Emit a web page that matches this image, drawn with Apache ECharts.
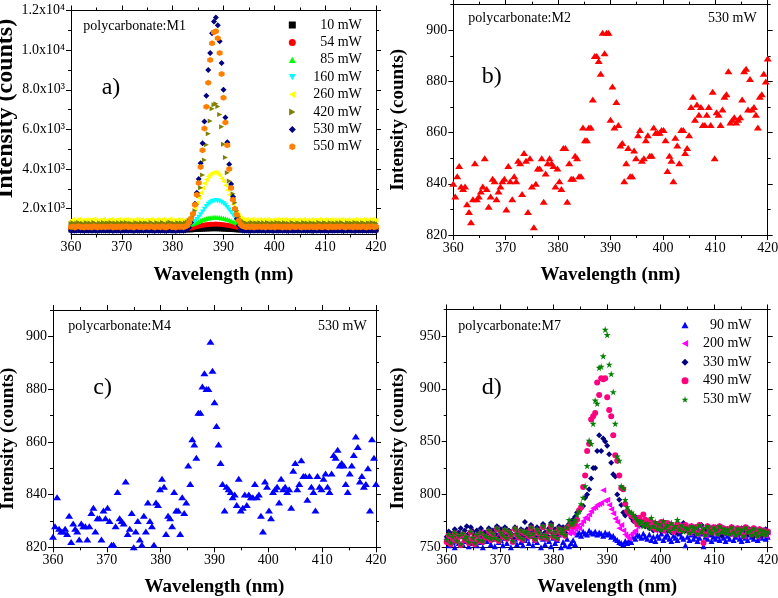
<!DOCTYPE html>
<html><head><meta charset="utf-8">
<script src="https://cdn.jsdelivr.net/npm/echarts@6/dist/echarts.min.js"></script>
<style>html,body{margin:0;padding:0;background:#fff}#c{width:778px;height:598px}</style>
</head><body><div id="c"></div>
<script>
// shared wavelength grid (nm)
const W = [
360,360.375,360.75,361.125,361.5,361.875,362.25,362.625,
363,363.375,363.75,364.125,364.5,364.875,365.25,365.625,
366,366.375,366.75,367.125,367.5,367.875,368.25,368.625,
369,369.375,369.75,370.125,370.5,370.875,371.25,371.625,
372,372.375,372.75,373.125,373.5,373.875,374.25,374.625,
375,375.375,375.75,376.125,376.5,376.875,377.25,377.625,
378,378.375,378.75,379.125,379.5,379.875,380.25,380.625,
381,381.375,381.75,382.125,382.5,382.875,383.25,383.625,
384,384.375,384.75,385.125,385.5,385.875,386.25,386.625,
387,387.375,387.75,388.125,388.5,388.875,389.25,389.625,
390,390.375,390.75,391.125,391.5,391.875,392.25,392.625,
393,393.375,393.75,394.125,394.5,394.875,395.25,395.625,
396,396.375,396.75,397.125,397.5,397.875,398.25,398.625,
399,399.375,399.75,400.125,400.5,400.875,401.25,401.625,
402,402.375,402.75,403.125,403.5,403.875,404.25,404.625,
405,405.375,405.75,406.125,406.5,406.875,407.25,407.625,
408,408.375,408.75,409.125,409.5,409.875,410.25,410.625,
411,411.375,411.75,412.125,412.5,412.875,413.25,413.625,
414,414.375,414.75,415.125,415.5,415.875,416.25,416.625,
417,417.375,417.75,418.125,418.5,418.875,419.25,419.625,
420];

// ---- panel a) polycarbonate:M1 ----
const A10 = [
925,940,918,935,948,922,930,915,941,928,936,920,945,931,917,938,926,943,921,934,
929,947,919,933,925,940,916,937,930,944,922,935,927,918,942,931,924,939,920,936,
933,921,945,928,917,938,930,924,941,927,919,936,943,925,932,918,940,929,935,922,
938,930,944,936,947,952,958,962,968,975,978,984,986,990,992,994,995,991,989,985,
980,976,970,964,958,950,945,940,934,928,941,924,937,930,919,945,927,935,921,939,
926,942,918,933,947,929,922,938,915,940,931,924,944,920,936,928,941,917,934,926,
939,923,946,931,918,937,928,942,921,935,930,916,944,927,938,922,933,945,919,930,
936,924,941,928,917,939,932,920,945,926,934,918,940,929,923,937,931,944,921,935,
928];
const A54 = [
995,1012,988,1004,1020,991,1002,983,1015,997,1008,986,1018,999,984,1010,993,1016,989,1003,
998,1019,985,1006,994,1013,981,1009,1000,1017,990,1005,996,984,1014,1001,992,1011,987,1007,
1003,989,1017,995,983,1012,998,991,1015,994,985,1008,1019,993,1002,986,1013,997,1006,990,
1010,1004,1015,1030,1050,1075,1100,1125,1145,1165,1180,1195,1205,1212,1218,1222,1225,1220,1214,1205,
1195,1182,1168,1150,1130,1110,1085,1062,1040,1022,1008,993,1011,997,985,1016,990,1004,988,1013,
994,1007,983,1015,999,1010,986,1012,992,1003,1018,989,1005,996,984,1011,1000,991,1016,997,
1006,987,1014,995,990,1009,1001,982,1017,993,1004,988,1013,998,1006,985,1015,992,1002,1009,
990,1012,997,984,1008,1001,1016,989,1003,986,1014,995,1007,991,1017,996,987,1009,993,1005,
1000];
const A85 = [
1165,1188,1150,1176,1195,1158,1172,1142,1190,1163,1181,1147,1198,1169,1145,1184,1160,1193,1152,1177,
1170,1196,1148,1180,1162,1191,1140,1185,1168,1194,1155,1178,1166,1146,1192,1173,1157,1187,1151,1182,
1175,1154,1197,1167,1143,1189,1171,1159,1193,1164,1149,1183,1199,1161,1176,1147,1190,1168,1180,1156,
1185,1180,1195,1215,1245,1280,1320,1360,1400,1440,1475,1505,1530,1548,1560,1565,1568,1562,1552,1538,
1518,1494,1465,1430,1395,1355,1315,1275,1240,1210,1190,1165,1182,1158,1174,1196,1152,1178,1163,1189,
1160,1186,1148,1193,1171,1157,1184,1145,1195,1167,1179,1150,1188,1163,1175,1142,1191,1169,1156,1182,
1173,1149,1194,1165,1181,1153,1187,1160,1176,1144,1197,1168,1158,1185,1172,1150,1190,1163,1179,1155,
1184,1161,1192,1170,1147,1186,1166,1178,1152,1195,1164,1180,1157,1189,1173,1146,1183,1168,1192,1159,
1175];
const A160 = [
1105,1128,1090,1116,1135,1098,1112,1082,1130,1103,1121,1087,1138,1109,1085,1124,1100,1133,1092,1117,
1110,1136,1088,1120,1102,1131,1080,1125,1108,1134,1095,1118,1106,1086,1132,1113,1097,1127,1091,1122,
1115,1094,1137,1107,1083,1129,1111,1099,1133,1104,1089,1123,1139,1101,1116,1087,1130,1108,1120,1096,
1125,1140,1170,1220,1280,1360,1460,1570,1700,1840,1980,2110,2220,2300,2360,2395,2410,2400,2375,2330,
2260,2170,2060,1940,1810,1680,1550,1430,1330,1240,1180,1140,1122,1098,1114,1136,1092,1118,1103,1129,
1100,1126,1088,1133,1111,1097,1124,1085,1135,1107,1119,1090,1128,1103,1115,1082,1131,1109,1096,1122,
1113,1089,1134,1105,1121,1093,1127,1100,1116,1084,1137,1108,1098,1125,1112,1090,1130,1103,1119,1095,
1124,1101,1132,1110,1087,1126,1106,1118,1092,1135,1104,1120,1097,1129,1113,1086,1123,1108,1132,1099,
1115];
const A260 = [
1410,1455,1380,1432,1470,1395,1425,1365,1462,1405,1442,1374,1476,1418,1370,1448,1400,1466,1384,1434,
1420,1472,1376,1440,1404,1462,1360,1450,1416,1468,1390,1436,1412,1372,1464,1426,1394,1454,1382,1444,
1430,1388,1474,1414,1366,1458,1422,1398,1466,1408,1378,1446,1478,1402,1432,1374,1460,1416,1440,1392,
1450,1470,1520,1620,1800,2050,2300,2560,2800,3050,3280,3480,3630,3740,3800,3820,3850,3790,3680,3520,
3380,3180,2950,2700,2460,2230,2000,1800,1640,1520,1460,1425,1468,1392,1436,1472,1384,1440,1406,1464,
1400,1452,1376,1466,1422,1394,1448,1370,1470,1414,1438,1380,1456,1406,1430,1364,1462,1418,1392,1444,
1426,1378,1468,1410,1442,1386,1454,1400,1432,1368,1474,1416,1396,1450,1424,1380,1460,1406,1438,1390,
1448,1402,1464,1420,1374,1452,1412,1436,1384,1470,1408,1440,1394,1458,1426,1372,1446,1416,1466,1398,
1430];
const A420 = [
1255,1290,1222,1270,1305,1235,1262,1210,1298,1248,1280,1218,1310,1258,1214,1286,1242,1302,1228,1274,
1262,1306,1220,1278,1246,1296,1206,1288,1254,1300,1232,1272,1252,1216,1298,1266,1238,1292,1226,1282,
1270,1230,1308,1256,1212,1294,1260,1240,1302,1250,1222,1284,1312,1244,1268,1218,1296,1256,1278,1236,
1290,1330,1400,1500,1650,1900,2200,2650,3060,3700,4460,5230,5780,6420,7040,7250,7290,7160,6750,6130,
5250,4590,3810,3400,3100,2750,2300,1900,1600,1450,1350,1300,1276,1232,1270,1308,1226,1282,1250,1298,
1244,1292,1218,1304,1262,1236,1288,1212,1306,1252,1276,1224,1296,1246,1268,1208,1300,1258,1234,1284,
1266,1220,1302,1250,1282,1228,1292,1240,1272,1210,1310,1256,1238,1290,1264,1222,1298,1246,1280,1232,
1288,1242,1300,1260,1216,1292,1252,1276,1226,1306,1248,1282,1234,1296,1266,1214,1286,1254,1302,1238,
1270];
const A530 = [
892,905,883,898,910,887,896,879,903,891,900,884,908,893,880,901,889,906,885,897,
894,909,881,896,888,904,878,899,893,907,886,897,890,881,905,894,887,902,883,899,
896,884,908,891,880,901,893,887,904,890,882,899,906,888,895,881,903,892,898,885,
901,960,1050,1300,1750,2250,2800,3500,4300,5300,6400,7700,9000,9850,10850,11450,11650,11250,10450,9350,
8000,6600,5350,4250,3250,2600,2000,1500,1150,950,902,886,899,893,881,907,890,898,884,903,
889,896,882,905,891,899,880,904,887,893,908,884,898,890,881,902,895,887,906,892,
899,883,907,890,886,901,894,880,905,889,896,884,903,891,898,882,906,888,895,900,
887,904,892,881,899,893,907,886,895,882,903,890,898,885,906,891,888,900,884,897,
893];
const A550 = [
1075,1102,1058,1088,1110,1066,1082,1050,1106,1072,1094,1055,1114,1080,1052,1098,1068,1108,1060,1090,
1084,1112,1054,1096,1070,1104,1048,1100,1078,1110,1062,1092,1074,1056,1108,1086,1064,1102,1058,1096,
1088,1060,1116,1076,1050,1104,1082,1066,1110,1072,1056,1098,1118,1068,1090,1052,1106,1078,1094,1062,
1100,1150,1300,1500,1750,2200,2700,3300,4100,4950,6050,7150,8350,9500,10350,10900,10950,10600,9850,8800,
7600,6350,5200,4000,3050,2450,2000,1700,1400,1200,1110,1085,1064,1102,1070,1112,1056,1094,1076,1108,
1066,1098,1052,1110,1080,1062,1104,1050,1114,1074,1092,1058,1106,1070,1088,1048,1112,1078,1060,1100,
1084,1056,1108,1072,1096,1060,1102,1068,1090,1050,1116,1080,1064,1098,1086,1054,1110,1070,1094,1062,
1100,1068,1112,1082,1054,1104,1074,1092,1058,1114,1072,1096,1060,1106,1084,1050,1098,1078,1110,1066,
1088];

// ---- panel b) polycarbonate:M2, 530 mW ----
const M2 = [
840,835,843,847,839,838,839,832,829,825,
834,848,834,835,837,839,850,838,831,835,
842,841,834,837,839,841,842,830,847,841,
834,843,841,849,848,836,852,849,829,850,
839,823,840,846,846,850,833,844,848,850,
848,847,839,846,841,838,854,854,833,848,
842,842,851,850,843,843,862,857,857,862,
862,873,890,890,888,883,899,891,899,899,
865,878,862,872,863,855,856,841,848,854,
843,843,853,850,859,861,849,850,857,859,
851,851,862,860,860,860,861,861,857,845,
851,849,841,858,855,848,861,861,852,854,
859,870,874,865,871,867,870,863,863,867,
870,863,876,850,868,867,863,869,874,875,
884,864,865,866,864,865,866,873,884,885,
869,881,869,870,867,862,874,875,883,880,
889];

// ---- panel c) polycarbonate:M4, 530 mW ----
const M4 = [
824,828,839,827,826,826,827,825,832,822,
829,827,826,823,829,828,828,823,828,833,
835,826,831,831,823,834,831,835,830,821,
821,828,841,831,830,829,845,825,827,833,
820,826,830,823,821,832,826,837,830,828,
821,837,836,842,846,843,825,832,831,828,
841,834,834,825,839,833,837,851,844,861,
859,854,871,871,881,886,880,880,898,887,
875,866,859,852,844,834,843,842,841,839,
840,836,846,834,835,840,836,840,839,839,
844,839,840,832,826,845,843,834,831,841,
842,843,837,846,842,843,841,842,835,849,
852,842,844,853,847,847,838,847,843,841,
834,847,843,842,846,848,843,841,848,855,
854,857,851,852,851,844,841,848,851,855,
862,858,845,847,843,844,850,834,861,854,
844];

// ---- panel d) polycarbonate:M7 ----
const D90 = [
757,752,760,755,750,758,754,761,753,756,759,751,757,754,762,752,758,755,750,757,
756,760,753,758,751,762,755,757,752,759,754,761,750,756,758,753,760,755,752,757,
759,754,761,752,757,755,762,750,758,753,760,756,751,759,754,757,762,750,755,752,
758,751,754,757,753,762,764,761,765,763,762,766,764,763,765,762,764,763,761,764,
762,763,760,761,758,757,755,754,753,756,754,757,755,760,758,762,761,759,763,760,
758,762,757,760,756,761,759,763,757,760,762,758,756,761,759,757,763,760,758,752,
760,757,762,758,761,756,759,763,751,760,758,762,756,760,758,761,757,763,759,756,
761,758,763,757,760,762,758,756,761,759,757,762,760,758,763,757,760,759,762,758,
760];
const D200 = [
758,763,756,761,765,757,762,754,764,759,761,756,766,760,755,763,758,765,757,762,
761,766,758,763,760,768,757,764,762,767,759,765,761,756,768,763,760,766,758,764,
765,761,769,763,758,767,764,760,770,762,759,766,771,761,765,759,768,764,767,762,
767,763,766,763,767,770,768,772,775,778,777,781,784,787,788,790,791,792,804,794,
795,790,786,782,777,774,768,771,766,762,760,758,762,764,766,770,774,772,776,773,
770,774,768,772,766,771,767,773,765,769,772,766,770,764,768,771,765,769,766,770,
767,763,769,765,768,762,770,764,767,761,769,765,763,768,766,762,769,764,767,763,
766,762,768,764,761,767,763,766,760,768,764,765,761,767,763,760,766,762,765,761,
764];
const D330 = [
760,765,757,763,767,759,764,768,762,766,770,763,769,765,761,766,762,768,760,764,
763,768,760,766,762,770,759,767,764,769,761,766,763,758,769,765,762,767,760,774,
767,763,771,765,760,769,766,762,772,764,761,768,773,763,767,761,770,766,769,764,
770,772,775,776,779,783,785,787,789,797,800,805,815,825,825,841,856,841,853,850,
846,838,830,819,817,800,795,790,783,780,785,782,778,775,779,773,776,771,774,770,
772,768,774,766,771,767,773,765,770,768,766,772,764,769,767,763,770,765,773,766,
768,764,770,766,762,769,765,771,763,767,764,768,762,766,769,764,767,761,766,763,
767,763,769,765,761,766,763,768,760,765,762,767,764,760,766,762,765,761,764,767,
763];
const D490 = [
755,761,753,758,763,756,760,752,762,757,759,754,764,758,753,761,756,763,755,760,
759,765,757,762,758,767,756,763,760,766,758,764,761,755,767,762,759,765,757,763,
764,760,768,762,757,766,763,759,769,761,758,765,770,760,764,758,767,763,766,761,
768,770,772,770,772,776,785,788,807,818,841,848,871,874,877,906,894,910,909,910,
892,880,874,856,837,832,818,806,805,791,784,782,780,779,775,772,778,774,781,776,
771,775,769,773,767,772,768,774,766,770,773,767,771,765,769,772,766,770,767,771,
768,764,770,766,769,763,771,765,754,762,770,766,764,769,767,763,770,765,768,764,
767,763,769,765,762,768,764,767,761,769,765,766,762,768,764,761,767,763,766,762,
765];
const D530 = [
757,762,754,760,764,756,761,753,763,758,760,755,765,759,754,762,757,764,756,761,
760,766,758,763,759,768,757,764,761,767,759,765,762,756,768,763,760,766,758,764,
765,761,769,763,758,767,764,760,770,762,759,766,771,761,765,759,768,764,767,762,
769,776,772,773,776,781,784,791,797,808,827,851,848,867,889,886,920,921,931,956,
951,923,914,897,867,836,832,808,806,795,788,784,783,781,778,776,773,775,770,772,
773,769,778,770,774,768,772,767,775,769,771,766,773,768,770,776,767,771,765,769,
768,764,770,766,769,763,771,765,768,762,770,766,764,769,767,763,770,765,768,764,
767,763,769,765,762,768,764,767,761,769,765,766,762,768,764,761,767,763,766,762,
765];

// tick values
const X_MIN = 360, X_MAX = 420, X_STEP = 10;
const YA_MAJOR = [2000,4000,6000,8000,10000,12000];
const YA_MINOR = [1000,3000,5000,7000,9000,11000];
const YBC_MAJOR = [820,840,860,880,900];
const YBC_MINOR = [830,850,870,890,910];
const YD_MAJOR = [750,800,850,900,950];
const YD_MINOR = [775,825,875,925,975];

const FONT = 'Liberation Serif';
const chart = echarts.init(document.getElementById('c'));

const GRIDS = [
  {left:71, top:10.5, width:305, height:224},
  {left:453.3, top:4.7, width:314.4, height:230.3},
  {left:53, top:310, width:323, height:237.3},
  {left:446.7, top:309.5, width:321, height:237.8}
];
const YRANGE = [[700,12000],[820,910],[820,910],[750,975]];
const YMAJ = [YA_MAJOR, YBC_MAJOR, YBC_MAJOR, YD_MAJOR];
const YMIN = [YA_MINOR, YBC_MINOR, YBC_MINOR, YD_MINOR];
const XGAP = [31, 30.5, 30, 30];
const YGAP = [50, 45.5, 35, 39];
const YFS = [24, 19, 19, 19];
const YPAD = [[0,0,0,28],[0,0,0,0],[0,20,0,0],[0,20,0,0]];

const black = {color:'#000', width:1};
const xAxis = [], yAxis = [];
GRIDS.forEach((g, p) => {
  const bx = {type:'value', gridIndex:p, min:X_MIN, max:X_MAX, interval:X_STEP,
    splitLine:{show:false}, axisLine:{show:true, onZero:false, lineStyle:black},
    axisTick:{show:true, inside:false, length:5, lineStyle:black},
    minorTick:{show:true, splitNumber:2, length:3, lineStyle:black}};
  xAxis.push(Object.assign({}, bx, {position:'bottom', name:'Wavelength (nm)', nameLocation:'middle',
    nameGap:XGAP[p], nameTextStyle:{fontFamily:FONT, fontSize:19, fontWeight:'bold', color:'#000'},
    axisLabel:{show:true, margin:6, fontFamily:FONT, fontSize:14, color:'#000'}}));
  xAxis.push(Object.assign({}, bx, {position:'top', axisLabel:{show:false}}));
  const by = {type:'value', gridIndex:p, min:YRANGE[p][0], max:YRANGE[p][1], splitLine:{show:false}};
  const fmt = p === 0 ? (v => v >= 10000 ? (v/10000).toFixed(1) + 'x10\u2074' : (v/1000).toFixed(1) + 'x10\u00b3') : (v => String(v));
  yAxis.push(Object.assign({}, by, {position:'left', name:'Intensity (counts)', nameLocation:'middle', nameRotate:90,
    nameGap:YGAP[p], nameTextStyle:{fontFamily:FONT, fontSize:YFS[p], fontWeight:'bold', color:'#000', padding:YPAD[p]},
    axisLine:{show:true, onZero:false, lineStyle:black},
    axisTick:{show:true, inside:false, length:5, lineStyle:black, customValues:YMAJ[p]},
    axisLabel:{show:true, margin:6, fontFamily:FONT, fontSize:14, color:'#000', customValues:YMAJ[p], formatter:fmt}}));
  yAxis.push(Object.assign({}, by, {position:'right',
    axisLine:{show:true, onZero:false, lineStyle:black},
    axisTick:{show:true, inside:false, length:5, lineStyle:black, customValues:YMAJ[p]},
    axisLabel:{show:false}}));
  yAxis.push(Object.assign({}, by, {position:'left', axisLine:{show:false},
    axisTick:{show:true, inside:false, length:3, lineStyle:black, customValues:YMIN[p]},
    axisLabel:{show:false}}));
  yAxis.push(Object.assign({}, by, {position:'right', axisLine:{show:false},
    axisTick:{show:true, inside:false, length:3, lineStyle:black, customValues:YMIN[p]},
    axisLabel:{show:false}}));
});

const HEX = 'path://M50,0 L93,25 L93,75 L50,100 L7,75 L7,25 Z';
const STAR = 'path://M50,0 L61,35 L98,35 L68,57 L79,91 L50,70 L21,91 L32,57 L2,35 L39,35 Z';
const TRI_UP = 'path://M50,0 L100,90 L0,90 Z';
const TRI_DOWN = 'path://M0,0 L100,0 L50,90 Z';
const TRI_LEFT = 'path://M0,50 L90,0 L90,100 Z';
const TRI_RIGHT = 'path://M90,50 L0,0 L0,100 Z';

function sc(name, p, arr, symbol, color, size) {
  return {type:'scatter', name:name, xAxisIndex:2*p, yAxisIndex:4*p,
    data:W.map((x, i) => [x, arr[i]]), symbol:symbol, symbolSize:size,
    itemStyle:{color:color, opacity:1}, emphasis:{disabled:true}, clip:true, silent:true, animation:false};
}

const series = [
  sc('a|10 mW', 0, A10, 'rect', '#000000', 5),
  sc('a|54 mW', 0, A54, 'circle', '#ff0000', 5),
  sc('a|85 mW', 0, A85, TRI_UP, '#00ff00', 5),
  sc('a|160 mW', 0, A160, TRI_DOWN, '#00ffff', 5),
  sc('a|260 mW', 0, A260, TRI_LEFT, '#ffff00', 5),
  sc('a|420 mW', 0, A420, TRI_RIGHT, '#808000', 5),
  sc('a|530 mW', 0, A530, 'diamond', '#000080', 6),
  sc('a|550 mW', 0, A550, HEX, '#ff8000', 6),
  sc('b|530 mW', 1, M2, TRI_UP, '#ff0000', [8, 6]),
  sc('c|530 mW', 2, M4, TRI_UP, '#0000ff', [8, 6]),
  sc('d|90 mW', 3, D90, TRI_UP, '#0000ff', 6),
  sc('d|200 mW', 3, D200, TRI_LEFT, '#ff00ff', 6),
  sc('d|330 mW', 3, D330, 'diamond', '#000080', 6),
  sc('d|490 mW', 3, D490, 'circle', '#ff0080', 6),
  sc('d|530 mW', 3, D530, STAR, '#008000', 7)
];

function legendCfg(names, left, top, gap, w) {
  return {data:names, orient:'vertical', left:left, top:top, itemGap:gap, itemWidth:7, itemHeight:7,
    padding:0, selectedMode:false,
    formatter: n => '{r|' + n.split('|')[1] + '}',
    textStyle:{rich:{r:{width:w, align:'right', fontFamily:FONT, fontSize:14, color:'#000', lineHeight:14}}}};
}

function txt(x, y, s, size, align) {
  return {type:'text', x:x, y:y, silent:true,
    style:{text:s, font:size + 'px "' + FONT + '"', fill:'#000', align:align || 'left', textAlign:align || 'left',
      verticalAlign:'middle', textVerticalAlign:'middle'}};
}

chart.setOption({
  animation:false,
  backgroundColor:'#fff',
  textStyle:{fontFamily:FONT},
  grid:GRIDS.map(g => Object.assign({containLabel:false, outerBoundsMode:'none'}, g)),
  xAxis:xAxis,
  yAxis:yAxis,
  legend:[
    legendCfg(['a|10 mW','a|54 mW','a|85 mW','a|160 mW','a|260 mW','a|420 mW','a|530 mW','a|550 mW'], 288.8, 18, 3.4, 61),
    legendCfg(['d|90 mW','d|200 mW','d|330 mW','d|490 mW','d|530 mW'], 681.5, 318, 4.6, 58)
  ],
  graphic:[
    txt(83.3, 26, 'polycarbonate:M1', 14),
    txt(101.7, 87.5, 'a)', 24),
    txt(468.3, 18.3, 'polycarbonate:M2', 14),
    txt(756.7, 18.3, '530 mW', 14, 'right'),
    txt(481.7, 76.7, 'b)', 24),
    txt(68.3, 326.7, 'polycarbonate:M4', 14),
    txt(366.7, 326.7, '530 mW', 14, 'right'),
    txt(93.3, 388, 'c)', 24),
    txt(458.3, 326.7, 'polycarbonate:M7', 14),
    txt(481.7, 388, 'd)', 24)
  ],
  series:series
});
</script></body></html>
